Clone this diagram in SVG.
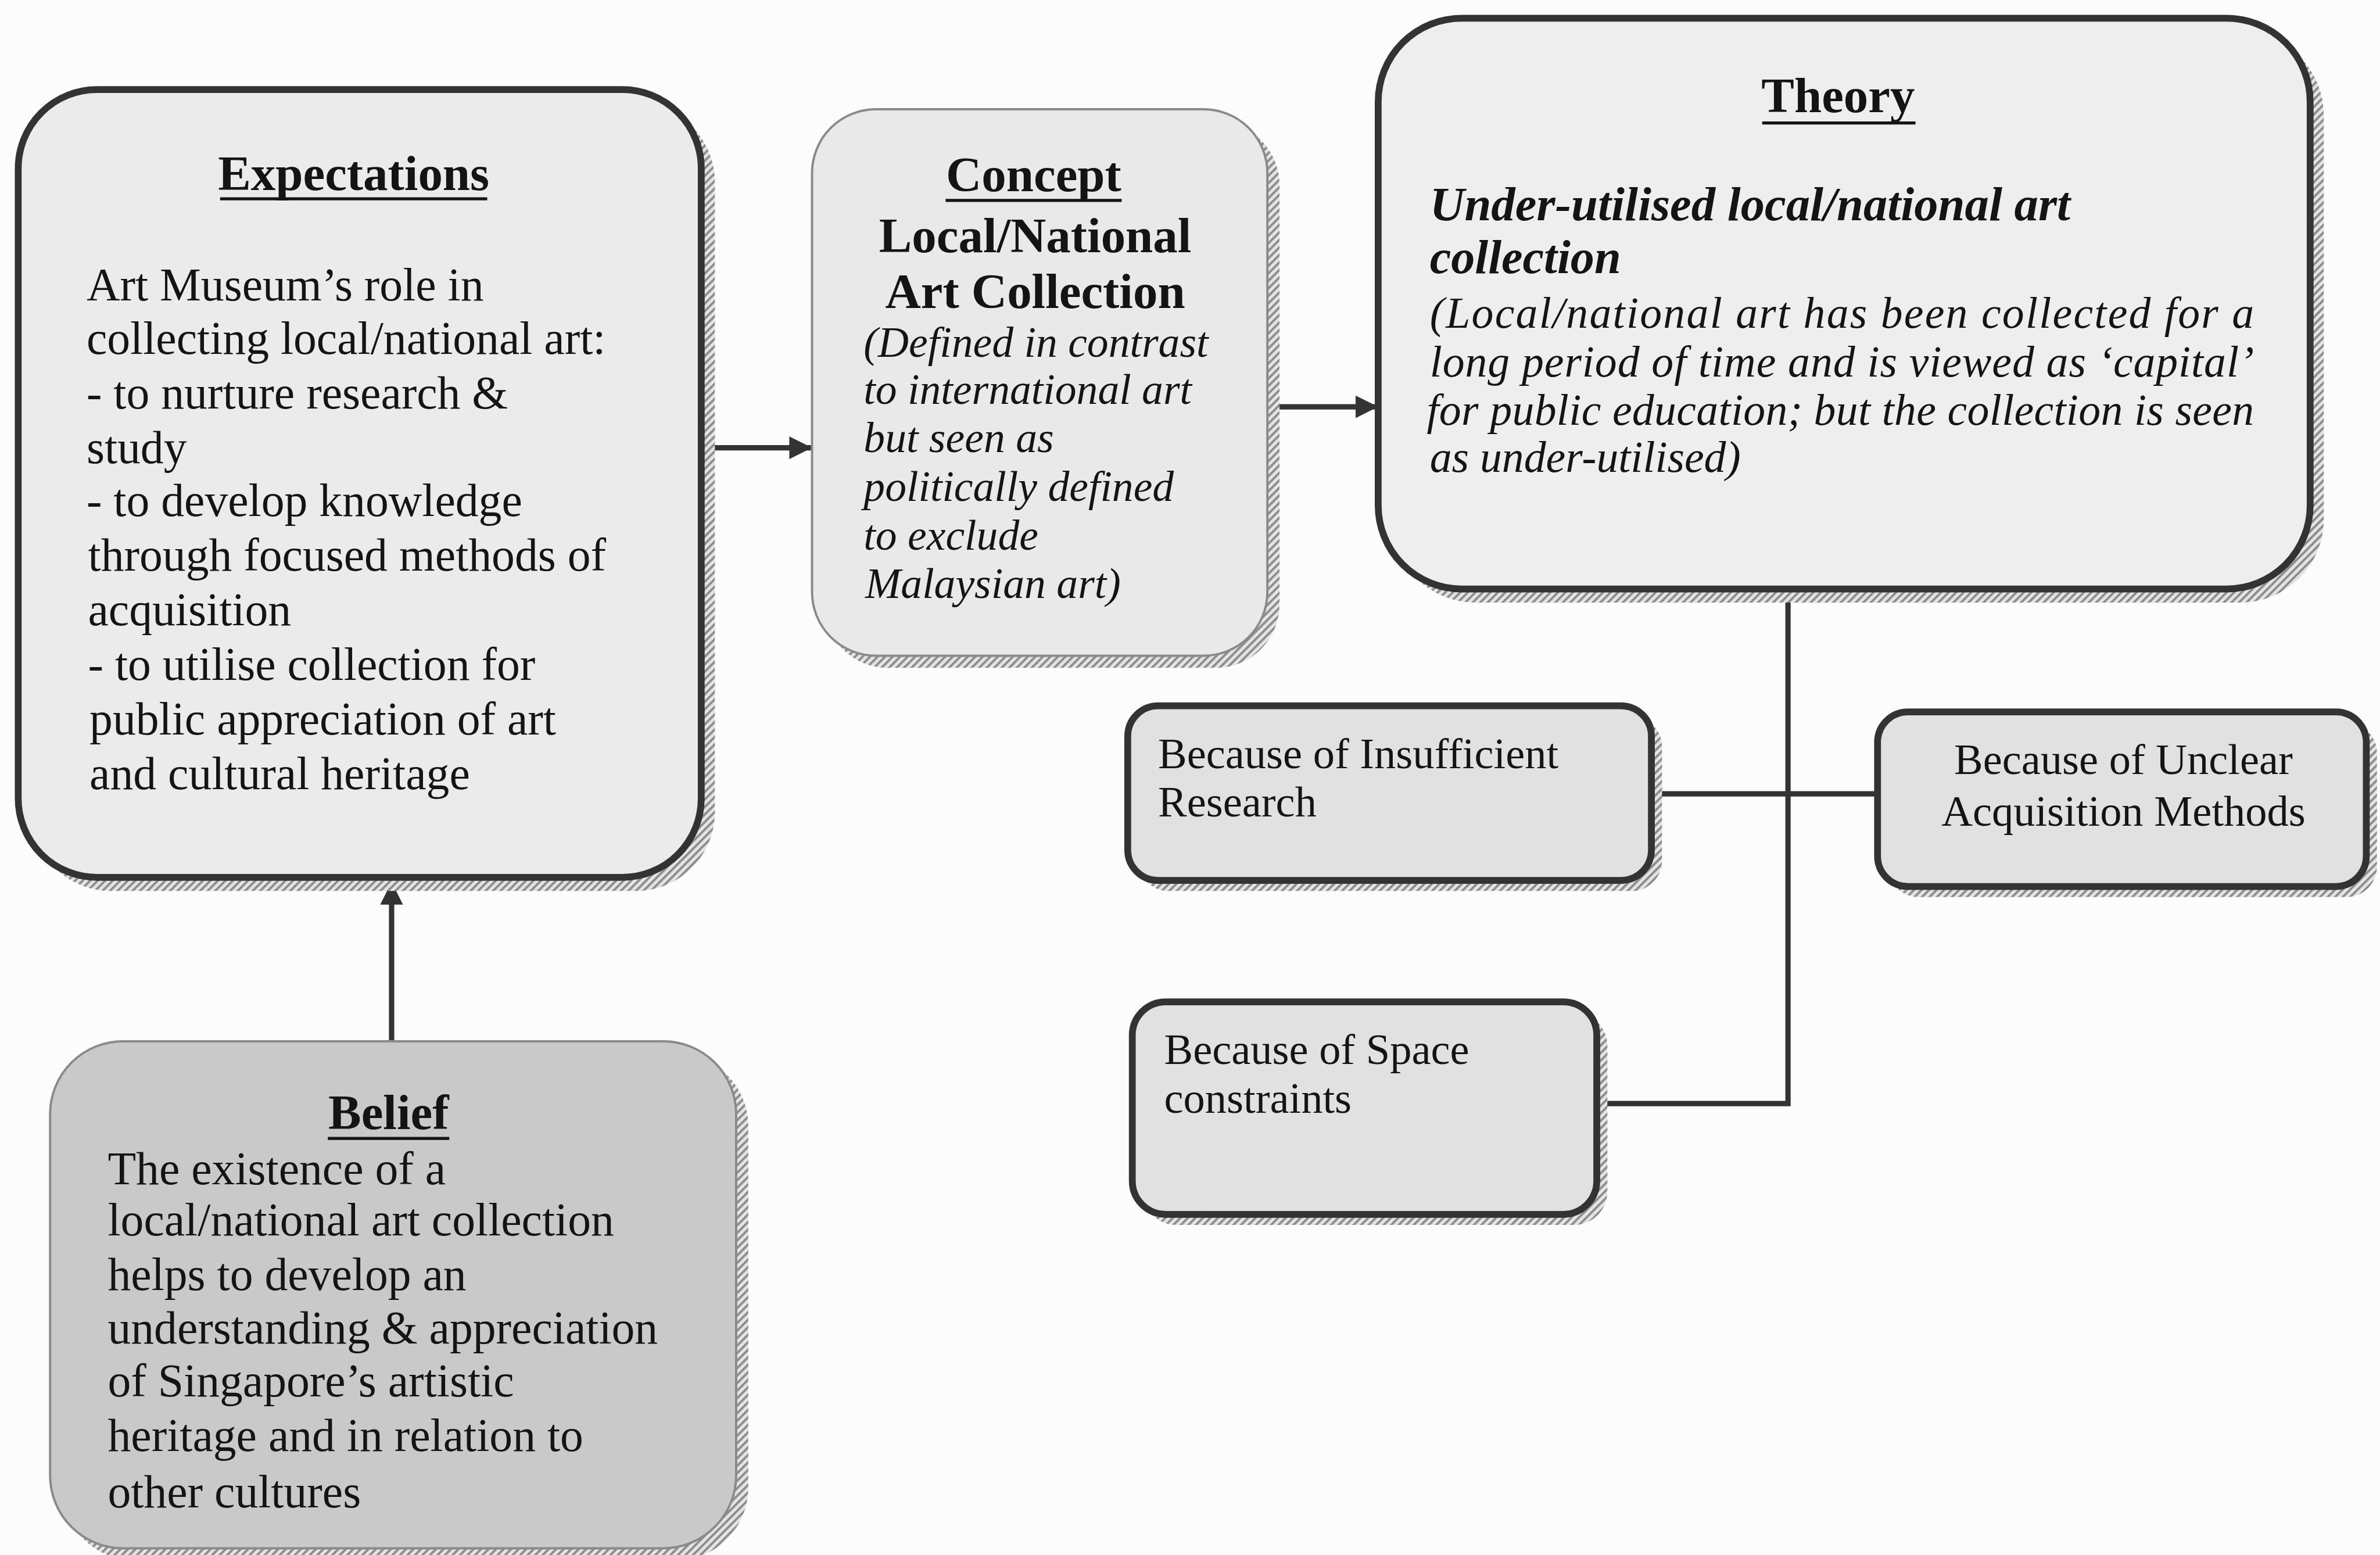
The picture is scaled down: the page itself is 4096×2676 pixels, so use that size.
<svg xmlns="http://www.w3.org/2000/svg" width="4096" height="2676" viewBox="0 0 4096 2676">
<defs>
<style>
.t{font-family:"Liberation Serif","Times New Roman",serif;fill:#141414}
.hd{font-weight:bold;font-size:32.5px}
.bd{font-size:30.5px}
.ci{font-style:italic;font-size:28.2px}
.tbi{font-style:italic;font-weight:bold;font-size:31.5px}
.ti{font-style:italic;font-size:29px}
.bc{font-size:28.5px}
.ul{stroke:#141414;stroke-width:2}
.sh{fill:url(#hatch)}
.thick{stroke:#333;stroke-width:4.5}
.thin{stroke:#8a8a8a;stroke-width:1.5}
.con{fill:none;stroke:#333;stroke-width:3.5}
</style>
<pattern id="hatch" patternUnits="userSpaceOnUse" width="3.5" height="3.5" patternTransform="rotate(45)">
<rect width="3.5" height="3.5" fill="#e4e4e4"/>
<rect width="1.5" height="3.5" fill="#8c8c8c"/>
</pattern>
<marker id="arr" viewBox="0 0 10 10" refX="10" refY="5" markerWidth="15" markerHeight="15" markerUnits="userSpaceOnUse" orient="auto">
<path d="M0,0 L10,5 L0,10 z" fill="#333"/>
</marker>
</defs>
<rect width="4096" height="2676" fill="#fcfcfc"/>
<g transform="scale(2.6122)">
<g id="connectors">
<path class="con" d="M258,686 V581" marker-end="url(#arr)"/>
<path class="con" d="M464,295 H535" marker-end="url(#arr)"/>
<path class="con" d="M837,268 H908" marker-end="url(#arr)"/>
<path class="con" d="M1178,389 V727 H1052"/>
<path class="con" d="M1088,523 H1237"/>
</g>
<g id="expectations">
<rect class="sh" x="21" y="68" width="450" height="519" rx="52"/>
<rect class="thick" x="12" y="59" width="450" height="519" rx="52" fill="#ebebeb" stroke-width="5"/>
<text class="t hd" x="233" y="125" text-anchor="middle">Expectations</text>
<line class="ul" x1="145" y1="131" x2="321" y2="131"/>
<text class="t bd" x="57" y="198">Art Museum’s role in</text>
<text class="t bd" x="57" y="233">collecting local/national art:</text>
<text class="t bd" x="57" y="269">- to nurture research &amp;</text>
<text class="t bd" x="57" y="305">study</text>
<text class="t bd" x="57" y="340">- to develop knowledge</text>
<text class="t bd" x="58" y="376">through focused methods of</text>
<text class="t bd" x="58" y="412">acquisition</text>
<text class="t bd" x="58" y="448">- to utilise collection for</text>
<text class="t bd" x="59" y="484">public appreciation of art</text>
<text class="t bd" x="59" y="520">and cultural heritage</text>
</g>
<g id="concept">
<rect class="sh" x="543" y="80" width="300" height="360" rx="42"/>
<rect class="thin" x="535" y="72" width="300" height="360" rx="42" fill="#e9e9e9"/>
<text class="t hd" x="681" y="126" text-anchor="middle">Concept</text>
<line class="ul" x1="623" y1="132" x2="739" y2="132"/>
<text class="t hd" x="682" y="166" text-anchor="middle">Local/National</text>
<text class="t hd" x="682" y="203" text-anchor="middle">Art Collection</text>
<text class="t ci" x="569" y="235">(Defined in contrast</text>
<text class="t ci" x="569" y="266">to international art</text>
<text class="t ci" x="569" y="298">but seen as</text>
<text class="t ci" x="569" y="330">politically defined</text>
<text class="t ci" x="569" y="362">to exclude</text>
<text class="t ci" x="570" y="394">Malaysian art)</text>
</g>
<g id="theory">
<rect class="sh" x="917" y="21" width="614" height="376" rx="55"/>
<rect class="thick" x="908" y="12" width="614" height="376" rx="55" fill="#eeeeee" stroke-width="5.5"/>
<text class="t hd" x="1211" y="74" text-anchor="middle">Theory</text>
<line class="ul" x1="1161" y1="81" x2="1262" y2="81"/>
<text class="t tbi" x="942" y="145" textLength="422" lengthAdjust="spacingAndGlyphs">Under-utilised local/national art</text>
<text class="t tbi" x="942" y="180">collection</text>
<text class="t ti" x="942" y="216" textLength="543" lengthAdjust="spacing">(Local/national art has been collected for a</text>
<text class="t ti" x="942" y="248" textLength="543" lengthAdjust="spacing">long period of time and is viewed as ‘capital’</text>
<text class="t ti" x="940" y="280" textLength="545" lengthAdjust="spacing">for public education; but the collection is seen</text>
<text class="t ti" x="942" y="311">as under-utilised)</text>
</g>
<g id="insufficient">
<rect class="sh" x="750" y="472" width="345" height="115" rx="20"/>
<rect class="thick" x="743" y="465" width="345" height="115" rx="20" fill="#e1e1e1"/>
<text class="t bc" x="763" y="506">Because of Insufficient</text>
<text class="t bc" x="763" y="538">Research</text>
</g>
<g id="unclear">
<rect class="sh" x="1244" y="476" width="322" height="115" rx="20"/>
<rect class="thick" x="1237" y="469" width="322" height="115" rx="20" fill="#e1e1e1"/>
<text class="t bc" x="1399" y="510" text-anchor="middle">Because of Unclear</text>
<text class="t bc" x="1399" y="544" text-anchor="middle">Acquisition Methods</text>
</g>
<g id="space">
<rect class="sh" x="753" y="667" width="306" height="140" rx="22"/>
<rect class="thick" x="746" y="660" width="306" height="140" rx="22" fill="#e1e1e1"/>
<text class="t bc" x="767" y="701">Because of Space</text>
<text class="t bc" x="767" y="733">constraints</text>
</g>
<g id="belief">
<rect class="sh" x="41" y="694" width="452" height="334" rx="48"/>
<rect class="thin" x="33" y="686" width="452" height="334" rx="48" fill="#c9c9c9"/>
<text class="t hd" x="256" y="744" text-anchor="middle">Belief</text>
<line class="ul" x1="216" y1="750" x2="296" y2="750"/>
<text class="t bd" x="71" y="780">The existence of a</text>
<text class="t bd" x="71" y="814">local/national art collection</text>
<text class="t bd" x="71" y="850">helps to develop an</text>
<text class="t bd" x="71" y="885">understanding &amp; appreciation</text>
<text class="t bd" x="71" y="920">of Singapore’s artistic</text>
<text class="t bd" x="71" y="956">heritage and in relation to</text>
<text class="t bd" x="71" y="993">other cultures</text>
</g>
</g>
</svg>
